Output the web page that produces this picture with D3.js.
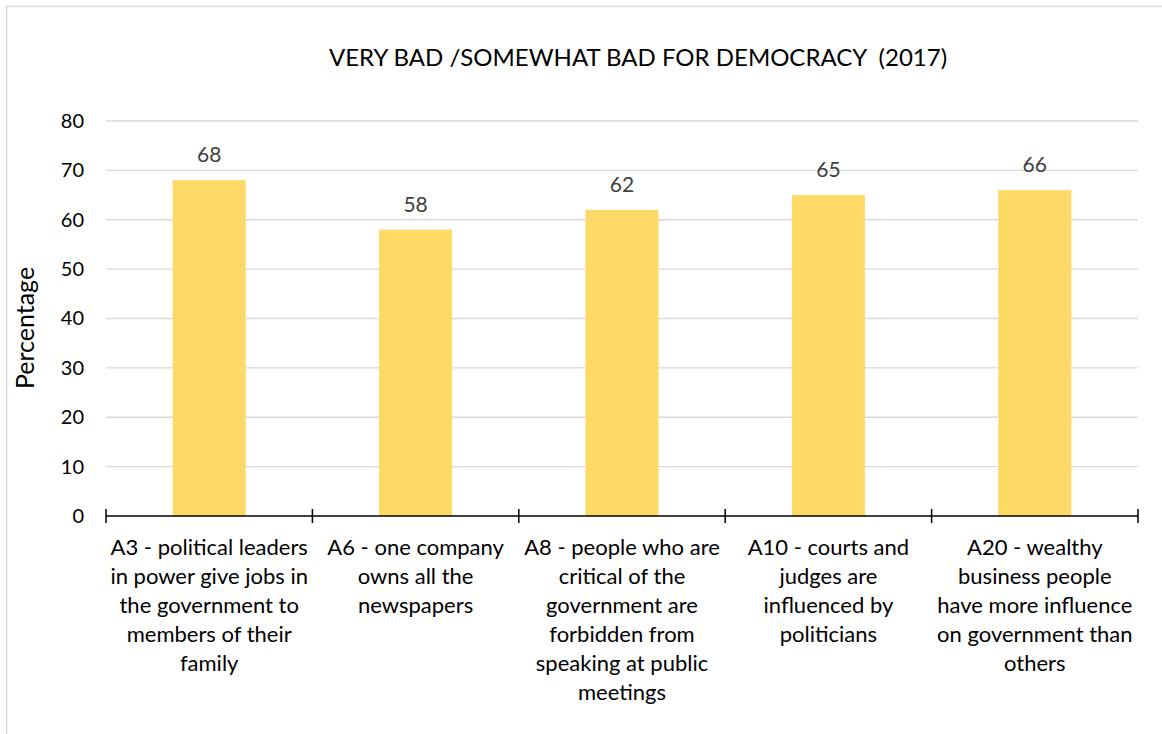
<!DOCTYPE html>
<html>
<head>
<meta charset="utf-8">
<script src="https://cdn.jsdelivr.net/npm/d3@7"></script>
<style>
  html, body { margin: 0; padding: 0; background: #fff; }
  svg { display: block; font-family: Lato, "Open Sans", sans-serif; }
</style>
</head>
<body>
<svg id="chart" width="1162" height="734"></svg>
<script>
// Survey items (each label already split into the lines it is shown on)
const categories = [
  "A3 - political leaders\nin power give jobs in\nthe government to\nmembers of their\nfamily",
  "A6 - one company\nowns all the\nnewspapers",
  "A8 - people who are\ncritical of the\ngovernment are\nforbidden from\nspeaking at public\nmeetings",
  "A10 - courts and\njudges are\ninfluenced by\npoliticians",
  "A20 - wealthy\nbusiness people\nhave more influence\non government than\nothers"
];
// Share answering "very bad" or "somewhat bad" (%)
const values = [68, 58, 62, 65, 66];
const yTicks = [0, 10, 20, 30, 40, 50, 60, 70, 80];
const titleText = "VERY BAD /SOMEWHAT BAD FOR DEMOCRACY  (2017)";
const yLabel = "Percentage";

const svg = d3.select("#chart");
const W = 1162, H = 734;
const m = { left: 106, right: 24, top: 121, bottom: 218 };
const plotW = W - m.left - m.right;
const plotH = H - m.top - m.bottom;

// outer chart frame
svg.append("rect")
  .attr("x", 6.5).attr("y", 6.5)
  .attr("width", W + 20).attr("height", H + 20)
  .attr("fill", "none").attr("stroke", "#d9d9d9").attr("stroke-width", 1.5);

const g = svg.append("g").attr("transform", `translate(${m.left},${m.top})`);

const x = d3.scaleBand().domain(d3.range(categories.length)).range([0, plotW]).paddingInner(0.646).paddingOuter(0.323);
const y = d3.scaleLinear().domain([0, 80]).range([plotH, 0]);

// horizontal gridlines
g.append("g").selectAll("line").data(yTicks.filter(d => d > 0)).join("line")
  .attr("x1", 0).attr("x2", plotW)
  .attr("y1", d => y(d)).attr("y2", d => y(d))
  .attr("stroke", "#d9d9d9").attr("stroke-width", 1.3);

// y axis tick labels
const yAxis = d3.axisLeft(y).tickValues(yTicks).tickSize(0).tickPadding(22);
const ya = g.append("g").call(yAxis);
ya.select(".domain").remove();
ya.selectAll("text").attr("font-size", 20).attr("fill", "#000").attr("font-family", "Lato, sans-serif");

// bars
g.append("g").selectAll("rect").data(values).join("rect")
  .attr("x", (d, i) => x(i))
  .attr("width", x.bandwidth())
  .attr("y", d => y(d))
  .attr("height", d => plotH - y(d))
  .attr("fill", "#FFD966");

// value labels
g.append("g").selectAll("text").data(values).join("text")
  .attr("x", (d, i) => x(i) + x.bandwidth() / 2)
  .attr("y", d => y(d) - 18)
  .attr("text-anchor", "middle")
  .attr("font-size", 21)
  .attr("fill", "#404040")
  .text(d => d);

// category axis with crossing tick marks at band boundaries
const xBound = d3.scaleLinear().domain([0, categories.length]).range([0, plotW]);
const xa = g.append("g").attr("transform", `translate(0,${plotH})`);
xa.append("line").attr("x1", 0).attr("x2", plotW).attr("stroke", "#000").attr("stroke-width", 1.5);
xa.selectAll("line.tk").data(d3.range(categories.length + 1)).join("line")
  .attr("class", "tk")
  .attr("x1", d => xBound(d)).attr("x2", d => xBound(d))
  .attr("y1", -7).attr("y2", 7)
  .attr("stroke", "#000").attr("stroke-width", 1.5);

// category labels
const lab = xa.selectAll("text.cat").data(categories).join("text")
  .attr("class", "cat")
  .attr("text-anchor", "middle")
  .attr("font-size", 22)
  .attr("fill", "#000")
  .attr("transform", (d, i) => `translate(${x(i) + x.bandwidth() / 2},0)`);
lab.selectAll("tspan").data(d => d.split("\n")).join("tspan")
  .attr("x", 0)
  .attr("y", (d, i) => 39 + i * 29)
  .text(d => d);

// y axis title
svg.append("text")
  .attr("transform", `translate(34,328) rotate(-90)`)
  .attr("text-anchor", "middle")
  .attr("font-size", 25)
  .attr("fill", "#000")
  .text(yLabel);

// chart title
svg.append("text")
  .attr("x", 638).attr("y", 66)
  .attr("text-anchor", "middle")
  .attr("font-size", 24)
  .attr("fill", "#000")
  .style("white-space", "pre")
  .text(titleText);
</script>
</body>
</html>
